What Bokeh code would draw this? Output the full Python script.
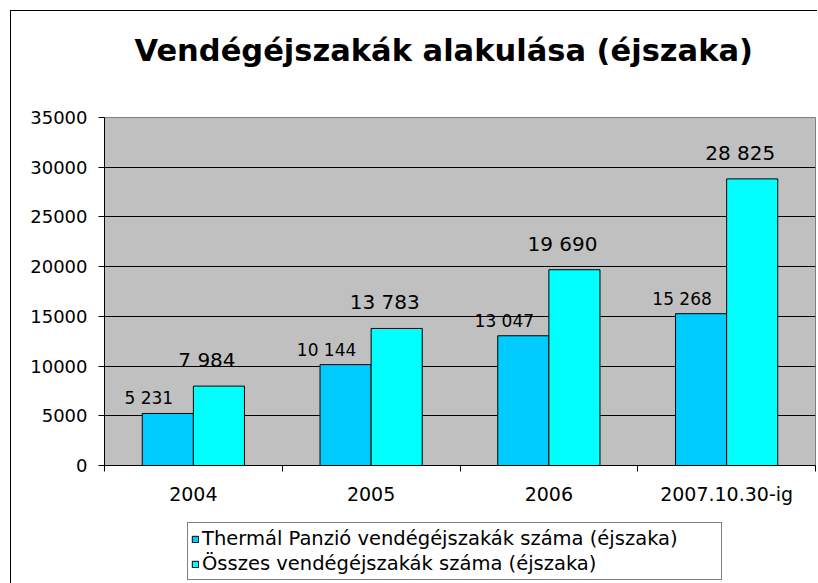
from bokeh.plotting import figure
from bokeh.models import (Range1d, FixedTicker, BasicTickFormatter, Legend, LegendItem,
                          ColumnDataSource, Title)
from bokeh.layouts import column
from bokeh.core.properties import value
from bokeh.embed import file_html
from bokeh.resources import INLINE

# ---- data ----
categories = ["2004", "2005", "2006", "2007.10.30-ig"]
thermal = [5231, 10144, 13047, 15268]
osszes = [7984, 13783, 19690, 28825]
series_names = ["Thermál Panzió vendégéjszakák száma (éjszaka)",
                "Összes vendégéjszakák száma (éjszaka)"]
y_ticks = [0, 5000, 10000, 15000, 20000, 25000, 30000, 35000]
title_text = "Vendégéjszakák alakulása (éjszaka)"

FONT = "DejaVu Sans"
BAR_W = 0.2875
C_TH = "#00CCFF"
C_OS = "#00FFFF"

idx = list(range(len(categories)))
centers = [i + 0.5 for i in idx]
x_th = [c - BAR_W / 2 for c in centers]
x_os = [c + BAR_W / 2 for c in centers]

def fmt(v):
    return f"{v:,}".replace(",", " ")

src_th = ColumnDataSource(dict(x=x_th, top=thermal, lab=[fmt(v) for v in thermal]))
src_os = ColumnDataSource(dict(x=x_os, top=osszes, lab=[fmt(v) for v in osszes]))

p = figure(frame_width=711, frame_height=348, output_backend="svg", toolbar_location=None,
           x_range=Range1d(0, len(categories)), y_range=Range1d(y_ticks[0], y_ticks[-1]),
           min_border_left=93, min_border_right=2, min_border_top=106, min_border_bottom=50,
           background_fill_color="#C0C0C0", border_fill_color="white", title=None)

spacer = Title(text=" ", text_font_size="1px", standoff=47)
main_title = Title(text=title_text, text_font=FONT, text_font_size="30.5px",
                   text_font_style="bold", text_color="black", align="left",
                   offset=30, standoff=0)
p.add_layout(spacer, "above")
p.add_layout(main_title, "above")

p.outline_line_color = "#808080"
p.outline_line_width = 1

r_th = p.vbar(x="x", top="top", width=BAR_W, bottom=0, source=src_th,
              fill_color=C_TH, line_color="black", line_width=1)
r_os = p.vbar(x="x", top="top", width=BAR_W, bottom=0, source=src_os,
              fill_color=C_OS, line_color="black", line_width=1)

p.text(x="x", y="top", text="lab", source=src_th, text_align="center", text_baseline="middle",
       x_offset=-19, y_offset=-15, text_font=value(FONT), text_font_size="17px", text_color="black")
p.text(x="x", y="top", text="lab", source=src_os, text_align="center", text_baseline="middle",
       x_offset=-12, y_offset=-26, text_font=value(FONT), text_font_size="20px", text_color="black")

# grid
p.xgrid.grid_line_color = None
p.ygrid.ticker = FixedTicker(ticks=y_ticks)
p.ygrid.grid_line_color = "black"
p.ygrid.grid_line_width = 1

# y axis
ya = p.yaxis[0]
ya.ticker = FixedTicker(ticks=y_ticks)
ya.formatter = BasicTickFormatter(use_scientific=False)
ya.major_tick_out = 6
ya.major_tick_in = 0
ya.minor_tick_line_color = None
ya.axis_line_color = "black"
ya.major_tick_line_color = "black"
ya.major_label_text_font = FONT
ya.major_label_text_font_size = "18px"
ya.major_label_text_color = "black"
ya.major_label_standoff = 11

# x axis
xa = p.xaxis[0]
xa.ticker = FixedTicker(ticks=centers, minor_ticks=[i for i in range(len(categories) + 1)])
xa.major_label_overrides = {c: cat for c, cat in zip(centers, categories)}
xa.major_tick_line_color = None
xa.minor_tick_line_color = "black"
xa.minor_tick_out = 6
xa.minor_tick_in = 0
xa.axis_line_color = "black"
xa.major_label_text_font = FONT
xa.major_label_text_font_size = "19px"
xa.major_label_text_color = "black"
xa.major_label_standoff = 11

# ---- legend strip ----
lg = figure(width=806, height=68, output_backend="svg", toolbar_location=None,
            x_range=Range1d(0, 1), y_range=Range1d(0, 1),
            x_axis_type=None, y_axis_type=None,
            min_border_left=0, min_border_right=0, min_border_top=0, min_border_bottom=0,
            background_fill_color="white", border_fill_color="white")
lg.outline_line_color = None
lg.xgrid.grid_line_color = None
lg.ygrid.grid_line_color = None
# legend swatches only (no visible marks: the point lies outside the strip's range)
key_src = ColumnDataSource(dict(x=[-1.0], top=[0.0]))
e_th = lg.vbar(x="x", top="top", width=0.1, source=key_src, fill_color=C_TH, line_color="black", line_width=1)
e_os = lg.vbar(x="x", top="top", width=0.1, source=key_src, fill_color=C_OS, line_color="black", line_width=1)

legend = Legend(items=[LegendItem(label=series_names[0], renderers=[e_th]),
                       LegendItem(label=series_names[1], renderers=[e_os])],
                location=(83, 3), orientation="vertical")
legend.label_text_font = FONT
legend.label_text_font_size = "19.5px"
legend.label_text_color = "black"
legend.glyph_width = 8
legend.glyph_height = 8
legend.label_standoff = 3
legend.label_height = 25
legend.label_width = 516
legend.spacing = 0
legend.padding = 3
legend.margin = 0
legend.border_line_color = "black"
legend.border_line_width = 1
legend.background_fill_color = "white"
legend.background_fill_alpha = 1
lg.add_layout(legend, "center")

layout = column(p, lg, spacing=0)
layout.styles = {"border-left": "1px solid black", "border-top": "1px solid black",
                 "margin-left": "10px", "margin-top": "10px"}

open("out.html", "w").write(file_html(layout, INLINE))
